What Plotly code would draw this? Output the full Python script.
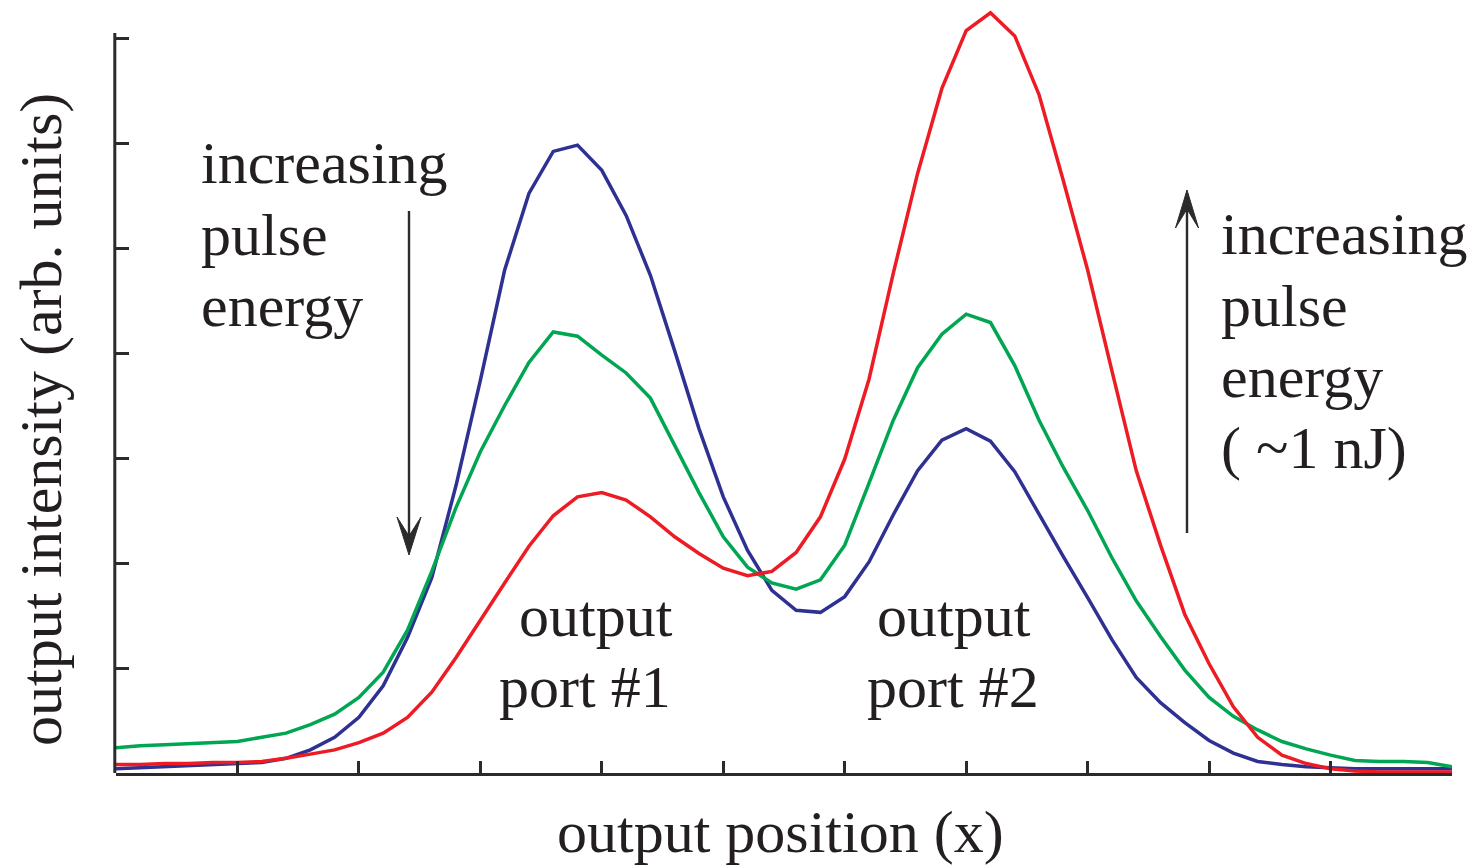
import plotly.graph_objects as go

# Sample positions along the output face (arbitrary units, 56 samples)
position = list(range(56))

# Output intensity profiles (arb. units) for three pulse energies
intensity_low = [
    0.04, 0.05, 0.06, 0.07, 0.08, 0.09, 0.10, 0.14, 0.22, 0.34,
    0.53, 0.83, 1.29, 1.86, 2.74, 3.74, 4.79, 5.52, 5.92, 5.98,
    5.74, 5.31, 4.74, 4.02, 3.28, 2.63, 2.12, 1.74, 1.55, 1.53,
    1.68, 2.01, 2.46, 2.88, 3.17, 3.28, 3.16, 2.87, 2.46, 2.06,
    1.67, 1.27, 0.91, 0.67, 0.48, 0.31, 0.19, 0.11, 0.08, 0.06,
    0.05, 0.04, 0.04, 0.04, 0.04, 0.04,
]
intensity_mid = [
    0.24, 0.26, 0.27, 0.28, 0.29, 0.30, 0.34, 0.38, 0.46, 0.56,
    0.72, 0.96, 1.36, 1.92, 2.53, 3.06, 3.50, 3.91, 4.20, 4.16,
    3.98, 3.81, 3.57, 3.12, 2.67, 2.25, 1.96, 1.81, 1.75, 1.84,
    2.17, 2.76, 3.36, 3.86, 4.18, 4.37, 4.29, 3.88, 3.36, 2.91,
    2.50, 2.05, 1.64, 1.30, 0.98, 0.72, 0.54, 0.41, 0.30, 0.23,
    0.17, 0.12, 0.11, 0.11, 0.10, 0.06,
]
intensity_high = [
    0.08, 0.08, 0.09, 0.09, 0.10, 0.10, 0.11, 0.14, 0.18, 0.22,
    0.29, 0.38, 0.53, 0.77, 1.10, 1.46, 1.81, 2.16, 2.45, 2.63,
    2.67, 2.60, 2.44, 2.25, 2.09, 1.95, 1.88, 1.92, 2.10, 2.44,
    2.99, 3.75, 4.76, 5.71, 6.52, 7.07, 7.24, 7.02, 6.46, 5.64,
    4.79, 3.83, 2.88, 2.17, 1.51, 1.04, 0.63, 0.34, 0.17, 0.09,
    0.04, 0.02, 0.01, 0.01, 0.01, 0.01,
]

series = [
    ("low", intensity_low, "#2e3192"),
    ("mid", intensity_mid, "#00a651"),
    ("high", intensity_high, "#ed1c24"),
]

x_ticks = list(range(0, 56, 5))
y_ticks = list(range(0, 8))

W, H = 1472, 867
ML, MR, MB, MT = 116, 20, 94, 0
X_MAX = 55
Y_MAX = (H - MB - MT) / 105.0

INK = "#2b2b2b"
FONT = "Liberation Serif"
FS = 60


def dx(px):
    return (px - ML) / (W - ML - MR) * X_MAX


def dy(py):
    return (H - MB - py) / 105.0


fig = go.Figure()
for name, vals, color in series:
    fig.add_trace(go.Scatter(
        x=position, y=vals, mode="lines", name=name,
        line=dict(color=color, width=3.5), hoverinfo="skip",
    ))

# Text labels placed in axis units
labels = [
    ("increasing", 199, 163, "left"),
    ("pulse", 199, 235, "left"),
    ("energy", 199, 306, "left"),
    ("increasing", 1219, 234, "left"),
    ("pulse", 1219, 306, "left"),
    ("energy", 1219, 377, "left"),
    ("( ~1 nJ)", 1219, 448, "left"),
    ("output", 596, 616, "center"),
    ("port #1", 585, 687, "center"),
    ("output", 954, 616, "center"),
    ("port #2", 953, 687, "center"),
]
annotations = []
for text, px, py, anchor in labels:
    annotations.append(dict(
        x=dx(px), y=dy(py), xref="x", yref="y", text=text, showarrow=False,
        xanchor=anchor, yanchor="middle",
        font=dict(family=FONT, size=FS, color="#231f20"),
    ))

# Axis titles
annotations.append(dict(
    x=780, y=832, xref="paper", yref="paper", text="output position (x)",
    showarrow=False, xanchor="center", yanchor="middle",
    font=dict(family=FONT, size=FS, color="#231f20"),
))
annotations.append(dict(
    x=41, y=420, xref="paper", yref="paper", text="output intensity (arb. units)",
    showarrow=False, xanchor="center", yanchor="middle", textangle=-90,
    font=dict(family=FONT, size=FS, color="#231f20"),
))
# convert the two title positions from pixels to paper fractions
for a in annotations[-2:]:
    a["x"] = (a["x"] - ML) / (W - ML - MR)
    a["y"] = (H - MB - a["y"]) / (H - MB - MT)

shapes = []
# vertical axis line (stops at the top tick)
shapes.append(dict(
    type="line", xref="paper", yref="y",
    x0=-1.2 / (W - ML - MR), x1=-1.2 / (W - ML - MR),
    y0=dy(775), y1=dy(33),
    line=dict(color=INK, width=3),
))


def arrow(x, y_tail, y_tip, wing, length, notch):
    sgn = 1 if y_tip > y_tail else -1
    base = y_tip - sgn * length
    mid = y_tip - sgn * notch
    shapes.append(dict(
        type="line", xref="x", yref="y",
        x0=dx(x), x1=dx(x), y0=dy(y_tail), y1=dy(mid),
        line=dict(color=INK, width=2.4),
    ))
    path = "M{},{} L{},{} L{},{} L{},{} Z".format(
        dx(x), dy(y_tip), dx(x - wing), dy(base),
        dx(x), dy(mid), dx(x + wing), dy(base))
    shapes.append(dict(
        type="path", xref="x", yref="y", path=path,
        fillcolor=INK, line=dict(color=INK, width=1),
    ))


arrow(409, 211, 555, 12, 38, 19)
arrow(1187, 533, 190, 11.5, 38, 19)

fig.update_layout(
    width=W, height=H,
    margin=dict(l=ML, r=MR, t=MT, b=MB, pad=0),
    paper_bgcolor="white", plot_bgcolor="white",
    showlegend=False,
    annotations=annotations,
    shapes=shapes,
    xaxis=dict(
        range=[0, X_MAX], showgrid=False, zeroline=False,
        showline=True, linecolor=INK, linewidth=3,
        ticks="inside", ticklen=12, tickwidth=3, tickcolor=INK,
        tickvals=x_ticks, showticklabels=False,
    ),
    yaxis=dict(
        range=[0, Y_MAX], showgrid=False, zeroline=False,
        showline=False,
        ticks="inside", ticklen=13, tickwidth=3, tickcolor=INK,
        tickvals=y_ticks, showticklabels=False,
    ),
)

fig.write_html("out.html")
